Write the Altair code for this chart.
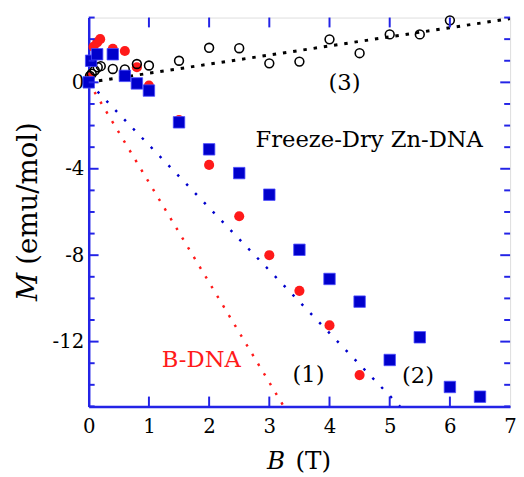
import altair as alt
import pandas as pd

# ---------------- data ----------------
# red filled circles
red_x = [0.02, 0.08, 0.14, 0.19, 0.4, 0.6, 0.8, 1.0, 1.5, 2.0, 2.5, 3.0, 3.5, 4.0, 4.5]
red_y = [0.25, 1.65, 1.85, 2.0, 1.55, 1.45, 0.7, -0.15, -1.75, -3.82, -6.2, -8.0, -9.65, -11.25, -13.55]

# blue filled squares
blue_x = [0, 0.04, 0.14, 0.4, 0.6, 0.8, 1.0, 1.5, 2.0, 2.5, 3.0, 3.5, 4.0, 4.5, 5.0, 5.5, 6.0, 6.5]
blue_y = [0, 1.0, 1.3, 1.3, 0.3, -0.05, -0.38, -1.85, -3.1, -4.2, -5.2, -7.75, -9.1, -10.15, -12.85, -11.8, -14.1, -14.55]

# black open circles
black_x = [0.02, 0.05, 0.1, 0.15, 0.2, 0.4, 0.6, 0.8, 1.0, 1.5, 2.0, 2.5, 3.0, 3.5, 4.0, 4.5, 5.0, 5.5, 6.0]
black_y = [0.3, 0.4, 0.55, 0.7, 0.75, 0.62, 0.6, 0.85, 0.78, 1.0, 1.6, 1.58, 0.88, 0.96, 1.99, 1.35, 2.22, 2.22, 2.87]

# dotted reference lines (end points)
line1_x = [0, 3.24]
line1_y = [0, -15]
line2_x = [0, 5.17]
line2_y = [0, -15]
line3_x = [0, 7]
line3_y = [0, 2.95]

# annotations
ann_text = ["(1)", "(2)", "(3)", "Freeze-Dry Zn-DNA", "B-DNA"]
ann_x = [3.65, 5.47, 4.25, 4.66, 1.87]
ann_y = [-13.57, -13.61, -0.02, -2.68, -12.85]
ann_color = ["black", "black", "black", "black", "#ff1a1a"]

# axes
x_tick_labels = [0, 1, 2, 3, 4, 5, 6, 7]
y_tick_labels = [0, -4, -8, -12]
x_ticks = [1, 2, 3, 4, 5, 6]
y_major = [-12, -8, -4, 0]
y_minor = [-15, -14, -13, -11, -10, -9, -7, -6, -5, -3, -2, -1, 1, 2, 3]

# ---------------- styling ----------------
FONT = "DejaVu Serif"
AXIS_BLUE = "#2323e6"
BLUE = "#0000cc"
RED = "#ff1a1a"
W, H = 428, 395

xs = alt.Scale(domain=[0, 7], nice=False, zero=False)
ys = alt.Scale(domain=[-15, 3], nice=False, zero=False)

x_axis = alt.Axis(values=x_tick_labels, ticks=False, grid=False, title=None,
                  domainColor=AXIS_BLUE, domainWidth=2.5, labelFont=FONT,
                  labelFontSize=20, labelColor="black", labelPadding=10,
                  labelFlush=False, labelExpr="'' + datum.value")
y_axis = alt.Axis(values=y_tick_labels, ticks=False, grid=False, title=None,
                  domainColor=AXIS_BLUE, domainWidth=2.5, labelFont=FONT,
                  labelFontSize=20, labelColor="black", labelPadding=5,
                  labelExpr="datum.value < 0 ? '-' + abs(datum.value) : '' + datum.value")

X = lambda f="x": alt.X(f"{f}:Q", scale=xs, axis=x_axis)
Y = lambda f="y": alt.Y(f"{f}:Q", scale=ys, axis=y_axis)


def line_layer(xv, yv, color, dash, width):
    df = pd.DataFrame({"x": xv, "y": yv})
    return alt.Chart(df).mark_line(color=color, strokeDash=dash, strokeWidth=width,
                                   clip=True).encode(x=X(), y=Y())


l1 = line_layer(line1_x, line1_y, RED, [2.5, 9], 2.5)
l2 = line_layer(line2_x, line2_y, BLUE, [2.5, 10.5], 2.5)
l3 = line_layer(line3_x, line3_y, "black", [3.5, 7], 3)

red = alt.Chart(pd.DataFrame({"x": red_x, "y": red_y})).mark_point(
    shape="circle", filled=True, color=RED, size=105, opacity=1
).encode(x=X(), y=Y())

black = alt.Chart(pd.DataFrame({"x": black_x, "y": black_y})).mark_point(
    shape="circle", filled=False, color="black", size=80, strokeWidth=1.6, opacity=1
).encode(x=X(), y=Y())

blue = alt.Chart(pd.DataFrame({"x": blue_x, "y": blue_y})).mark_point(
    shape="square", filled=True, color=BLUE, size=135, opacity=1,
    stroke="#4b4bff", strokeWidth=0.8
).encode(x=X(), y=Y())

ann = alt.Chart(pd.DataFrame({"t": ann_text, "x": ann_x, "y": ann_y, "c": ann_color})).mark_text(
    font=FONT, fontSize=23, baseline="middle", align="center"
).encode(x=X(), y=Y(), text="t:N", color=alt.Color("c:N", scale=None))

# inner tick marks on all four sides of the frame
rule_style = dict(color=AXIS_BLUE, strokeWidth=2)
xt = pd.DataFrame({"x": x_ticks})
bottom_ticks = alt.Chart(xt).mark_rule(**rule_style).encode(
    x=X(), y=alt.value(H), y2=alt.value(H - 10))
top_ticks = alt.Chart(xt).mark_rule(**rule_style).encode(
    x=X(), y=alt.value(0), y2=alt.value(10))
ymaj = pd.DataFrame({"y": y_major})
ymin = pd.DataFrame({"y": y_minor})
left_major = alt.Chart(ymaj).mark_rule(**rule_style).encode(
    y=Y(), x=alt.value(0), x2=alt.value(10))
left_minor = alt.Chart(ymin).mark_rule(**rule_style).encode(
    y=Y(), x=alt.value(0), x2=alt.value(6))
right_major = alt.Chart(ymaj).mark_rule(**rule_style).encode(
    y=Y(), x=alt.value(W), x2=alt.value(W - 10))
right_minor = alt.Chart(ymin).mark_rule(**rule_style).encode(
    y=Y(), x=alt.value(W), x2=alt.value(W - 6))

# axis titles (italic symbol + upright unit)
xt1 = alt.Chart(pd.DataFrame({"t": ["B"]})).mark_text(
    font=FONT, fontSize=25, fontStyle="italic", align="left", baseline="alphabetic"
).encode(text="t:N", x=alt.value(181), y=alt.value(459))
xt2 = alt.Chart(pd.DataFrame({"t": ["(T)"]})).mark_text(
    font=FONT, fontSize=25, align="left", baseline="alphabetic"
).encode(text="t:N", x=alt.value(210), y=alt.value(459))
yt1 = alt.Chart(pd.DataFrame({"t": ["M"]})).mark_text(
    font=FONT, fontSize=28, fontStyle="italic", align="left", baseline="alphabetic", angle=270
).encode(text="t:N", x=alt.value(-53), y=alt.value(288))
yt2 = alt.Chart(pd.DataFrame({"t": ["(emu/mol)"]})).mark_text(
    font=FONT, fontSize=28, align="left", baseline="alphabetic", angle=270
).encode(text="t:N", x=alt.value(-53), y=alt.value(251))

chart = alt.layer(
    l1, l2, l3, red, black, blue, ann,
    bottom_ticks, top_ticks, left_major, left_minor, right_major, right_minor,
    xt1, xt2, yt1, yt2
).properties(
    width=W, height=H,
    padding={"left": 82, "top": 6, "right": 6, "bottom": 68},
    autosize=alt.AutoSizeParams(type="none"),
).configure_view(
    stroke=AXIS_BLUE, strokeWidth=2.5
).configure(background="white")

chart.save("out.html", embed_options={"renderer": "svg", "actions": False})
